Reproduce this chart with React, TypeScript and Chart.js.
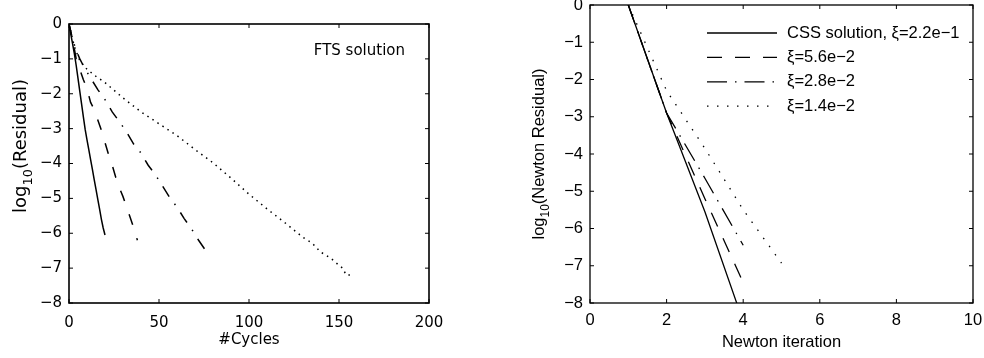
import React, { useEffect, useRef } from 'react';
import { Chart, registerables } from 'chart.js';
Chart.register(...registerables);

// ---------- Left panel: FTS solution ----------
const solidCycles = [0, 1, 2, 3, 4, 5, 6, 7, 8, 9, 10, 11, 12, 13, 14, 15, 16, 17, 18, 19, 20];
const solidResid = [0, -0.29, -0.57, -0.86, -1.19, -1.56, -1.93, -2.3, -2.67, -3.03, -3.32, -3.6, -3.89, -4.17, -4.46, -4.74, -5.03, -5.31, -5.6, -5.85, -6.05];

const dashedCycles = [0, 2, 4, 6, 8, 10, 12, 14, 16, 18, 20, 22, 24, 26, 28, 30, 32, 34, 36, 38];
const dashedResid = [0, -0.45, -1.0, -1.3, -1.6, -1.85, -2.25, -2.45, -2.75, -3.05, -3.4, -3.75, -4.05, -4.4, -4.7, -4.95, -5.25, -5.55, -5.85, -6.2];

const dashDotCycles = [0, 2, 4, 6, 8, 12, 16, 20, 24, 28, 32, 36, 40, 44, 48, 52, 56, 60, 64, 68, 72, 76, 78];
const dashDotResid = [0, -0.45, -0.75, -1.0, -1.2, -1.55, -1.88, -2.17, -2.52, -2.8, -3.1, -3.45, -3.7, -4.05, -4.32, -4.65, -4.98, -5.25, -5.58, -5.87, -6.2, -6.5, -6.63];

const dottedCycles = [0, 3, 6, 10, 15, 20, 30, 40, 50, 60, 70, 80, 90, 100, 110, 120, 130, 135, 140, 142, 146, 150, 152, 154, 158];
const dottedResid = [0, -0.65, -1.05, -1.3, -1.5, -1.68, -2.12, -2.52, -2.86, -3.2, -3.6, -3.98, -4.42, -4.88, -5.3, -5.7, -6.12, -6.28, -6.55, -6.6, -6.74, -6.92, -7.0, -7.2, -7.2];

const leftXRange = [0, 200];
const leftXStep = 50;
const leftYRange = [-8, 0];
const leftNote = 'FTS solution';
const leftXTitle = '#Cycles';
const leftYTitleParts = [
  { text: 'log', sub: false },
  { text: '10', sub: true },
  { text: '(Residual)', sub: false },
];

// ---------- Right panel: Newton residual ----------
const newtonIter = [1, 2, 3, 4];
const cssResid = [0, -2.9, -5.55, -8.5];
const xi56Resid = [0, -2.9, -5.2, -7.45];
const xi28Resid = [0, -2.9, -4.65, -6.45];
const xi14Iter = [1, 2, 3, 4, 5];
const xi14Resid = [0, -2.3, -3.85, -5.5, -6.93];

const seriesLabels = ['CSS solution, ξ=2.2e−1', 'ξ=5.6e−2', 'ξ=2.8e−2', 'ξ=1.4e−2'];
const rightXRange = [0, 10];
const rightXStep = 2;
const rightYRange = [-8, 0];
const rightXTitle = 'Newton iteration';
const rightYTitleParts = [
  { text: 'log', sub: false },
  { text: '10', sub: true },
  { text: '(Newton Residual)', sub: false },
];

const pts = (xs: number[], ys: number[]) => xs.map((x, i) => ({ x, y: ys[i] }));
const fmt = (v: number | string) => String(v).replace('-', '\u2212');

const framePlugin = {
  id: 'frame',
  afterDatasetsDraw(chart: any, _args: any, opts: any) {
    const { ctx, chartArea: a, scales } = chart;
    const L = opts.tickLen;
    ctx.save();
    ctx.strokeStyle = '#000';
    ctx.lineWidth = opts.lineWidth;
    ctx.setLineDash([]);
    ctx.strokeRect(a.left, a.top, a.right - a.left, a.bottom - a.top);
    ctx.lineWidth = opts.tickWidth;
    ctx.beginPath();
    scales.x.ticks.forEach((t: any) => {
      const p = scales.x.getPixelForValue(t.value);
      ctx.moveTo(p, a.bottom); ctx.lineTo(p, a.bottom - L);
      ctx.moveTo(p, a.top); ctx.lineTo(p, a.top + L);
    });
    scales.y.ticks.forEach((t: any) => {
      const p = scales.y.getPixelForValue(t.value);
      ctx.moveTo(a.left, p); ctx.lineTo(a.left + L, p);
      ctx.moveTo(a.right, p); ctx.lineTo(a.right - L, p);
    });
    ctx.stroke();
    ctx.restore();
  },
};

const notePlugin = {
  id: 'note',
  afterDatasetsDraw(chart: any, _args: any, opts: any) {
    if (!opts || !opts.text) return;
    const { ctx, chartArea: a } = chart;
    ctx.save();
    ctx.fillStyle = '#000';
    ctx.font = opts.font;
    ctx.textAlign = 'right';
    ctx.textBaseline = 'middle';
    ctx.fillText(opts.text, a.right - opts.dxRight, a.top + opts.dyTop);
    ctx.restore();
  },
};

// vertical axis title with a real subscript
const subTitlePlugin = {
  id: 'subTitle',
  afterDraw(chart: any, _args: any, opts: any) {
    if (!opts || !opts.parts) return;
    const { ctx } = chart;
    const size = opts.size;
    const fontFor = (sub: boolean) => `${sub ? size * 0.72 : size}px ${opts.family}`;
    ctx.save();
    ctx.fillStyle = '#000';
    let total = 0;
    const widths = opts.parts.map((p: any) => {
      ctx.font = fontFor(p.sub);
      const w = ctx.measureText(p.text).width;
      total += w;
      return w;
    });
    ctx.translate(opts.x, opts.y);
    ctx.rotate(-Math.PI / 2);
    ctx.textAlign = 'left';
    ctx.textBaseline = 'alphabetic';
    let x = -total / 2;
    const base = size * 0.36;
    opts.parts.forEach((p: any, i: number) => {
      ctx.font = fontFor(p.sub);
      ctx.fillText(p.text, x, base + (p.sub ? size * 0.28 : 0));
      x += widths[i];
    });
    ctx.restore();
  },
};

const lineLegendPlugin = {
  id: 'lineLegend',
  afterDatasetsDraw(chart: any, _args: any, opts: any) {
    if (!opts || !opts.show) return;
    const { ctx, chartArea: a } = chart;
    ctx.save();
    chart.data.datasets.forEach((ds: any, i: number) => {
      const y = a.top + opts.firstRow + i * opts.rowHeight;
      const x0 = a.left + opts.lineStart;
      ctx.strokeStyle = ds.borderColor;
      ctx.lineWidth = ds.borderWidth;
      ctx.setLineDash(ds.borderDash || []);
      ctx.beginPath();
      ctx.moveTo(x0, y);
      ctx.lineTo(x0 + opts.lineLen, y);
      ctx.stroke();
      ctx.setLineDash([]);
      ctx.fillStyle = '#000';
      ctx.font = opts.font;
      ctx.textAlign = 'left';
      ctx.textBaseline = 'middle';
      ctx.fillText(ds.label, x0 + opts.lineLen + opts.gap, y);
    });
    ctx.restore();
  },
};

function lineDs(label: string, data: any[], dash: number[], width: number) {
  return {
    label,
    data,
    borderColor: '#000',
    backgroundColor: '#000',
    borderWidth: width,
    borderDash: dash,
    pointRadius: 0,
    tension: 0,
    fill: false,
  };
}

function makeScales(p: any) {
  return {
    x: {
      type: 'linear',
      min: p.xRange[0],
      max: p.xRange[1],
      afterFit: (s: any) => { s.height = p.xAxisH; s.paddingLeft = 0; s.paddingRight = 0; },
      grid: { display: false, drawTicks: false },
      border: { display: false },
      ticks: { stepSize: p.xStep, color: '#000', padding: p.xTickPad, font: { family: p.family, size: p.size }, callback: (v: any) => fmt(v), maxRotation: 0 },
      title: { display: true, text: p.xTitle, color: '#000', font: { family: p.family, size: p.size }, padding: { top: 0, bottom: p.xTitlePad } },
    },
    y: {
      type: 'linear',
      min: p.yRange[0],
      max: p.yRange[1],
      afterFit: (s: any) => { s.width = p.yAxisW; s.paddingTop = 0; s.paddingBottom = 0; },
      grid: { display: false, drawTicks: false },
      border: { display: false },
      ticks: { stepSize: 1, color: '#000', padding: 7, font: { family: p.family, size: p.size }, callback: (v: any) => fmt(v) },
      title: { display: false },
    },
  };
}

export default function App() {
  const leftRef = useRef<HTMLCanvasElement>(null);
  const rightRef = useRef<HTMLCanvasElement>(null);

  useEffect(() => {
    const leftFamily = '"DejaVu Sans", sans-serif';
    const rightFamily = '"Liberation Sans", Arial, sans-serif';

    const left = new Chart(leftRef.current as HTMLCanvasElement, {
      type: 'line',
      data: {
        datasets: [
          lineDs('solid', pts(solidCycles, solidResid), [], 1.5),
          lineDs('dashed', pts(dashedCycles, dashedResid), [11, 14], 1.5),
          lineDs('dashdot', pts(dashDotCycles, dashDotResid), [12, 9, 1.5, 9], 1.5),
          lineDs('dotted', pts(dottedCycles, dottedResid), [1.5, 4.5], 1.5),
        ] as any,
      },
      options: {
        responsive: false,
        animation: false,
        events: [],
        layout: { padding: { top: 24, right: 63, left: 0, bottom: 0 } },
        scales: makeScales({
          xRange: leftXRange, xStep: leftXStep, yRange: leftYRange,
          xTitle: leftXTitle, family: leftFamily, size: 15,
          xAxisH: 55, yAxisW: 69, xTickPad: 11, xTitlePad: 9,
        }) as any,
        plugins: {
          legend: { display: false },
          tooltip: { enabled: false },
          frame: { lineWidth: 1.6, tickWidth: 1, tickLen: 4 },
          note: { text: leftNote, font: '15px "DejaVu Sans", sans-serif', dxRight: 24, dyTop: 27 },
          subTitle: { parts: leftYTitleParts, size: 18, family: leftFamily, x: 20, y: 146 },
        } as any,
      },
      plugins: [framePlugin, notePlugin, subTitlePlugin],
    });

    const right = new Chart(rightRef.current as HTMLCanvasElement, {
      type: 'line',
      data: {
        datasets: [
          lineDs(seriesLabels[0], pts(newtonIter, cssResid), [], 1.3),
          lineDs(seriesLabels[1], pts(newtonIter, xi56Resid), [15, 13], 1.3),
          lineDs(seriesLabels[2], pts(newtonIter, xi28Resid), [20, 8, 1.5, 8], 1.3),
          lineDs(seriesLabels[3], pts(xi14Iter, xi14Resid), [1.5, 8.5], 1.3),
        ] as any,
      },
      options: {
        responsive: false,
        animation: false,
        events: [],
        layout: { padding: { top: 5, right: 11, left: 0, bottom: 0 } },
        scales: makeScales({
          xRange: rightXRange, xStep: rightXStep, yRange: rightYRange,
          xTitle: rightXTitle, family: rightFamily, size: 16.5,
          xAxisH: 55, yAxisW: 98, xTickPad: 8, xTitlePad: 6,
        }) as any,
        plugins: {
          legend: { display: false },
          tooltip: { enabled: false },
          frame: { lineWidth: 1.3, tickWidth: 1, tickLen: 4 },
          lineLegend: { show: true, font: '16.5px "Liberation Sans", Arial, sans-serif', lineStart: 117, lineLen: 70, gap: 10, firstRow: 28, rowHeight: 24.4 },
          subTitle: { parts: rightYTitleParts, size: 16.5, family: rightFamily, x: 46, y: 154 },
        } as any,
      },
      plugins: [framePlugin, lineLegendPlugin, subTitlePlugin],
    });

    return () => {
      left.destroy();
      right.destroy();
    };
  }, []);

  return (
    <div style={{ position: 'fixed', left: 0, top: 0, width: 984, height: 358, background: '#fff' }}>
      <canvas ref={leftRef} width={492} height={358} style={{ position: 'absolute', left: 0, top: 0, width: 492, height: 358 }} />
      <canvas ref={rightRef} width={492} height={358} style={{ position: 'absolute', left: 492, top: 0, width: 492, height: 358 }} />
    </div>
  );
}
